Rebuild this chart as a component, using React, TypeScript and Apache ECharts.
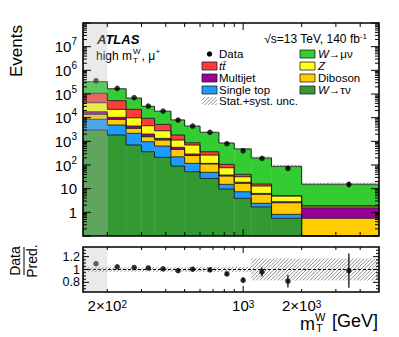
import { useEffect, useRef } from 'react';
import * as echarts from 'echarts';

// ---------------- data ----------------
const binEdges = [150, 200, 250, 300, 350, 425, 500, 600, 750, 900, 1100, 1400, 2000, 5000];
const wTauNu = [3000, 1850, 700, 363, 210, 90, 52, 27, 9.6, 3.9, 1.7, 0.56, 0.01];
const singleTop = [5500, 3030, 1470, 600, 420, 132, 65, 22, 5.6, 3.5, 0.7, 0.26, 0.01];
const diboson = [5300, 3620, 1370, 600, 500, 236, 134, 61, 18.8, 9.4, 3.35, 1.72, 0.54];
const multijet = [4000, 1800, 890, 465, 207, 99, 39, 7, 3.7, 1.8, 0.55, 0.26, 1.0];
const zBoson = [25000, 12200, 5470, 2530, 1460, 578, 407, 146, 39, 13.3, 6.6, 2.1, 0.28];
const ttbar = [64000, 29500, 12500, 4800, 2400, 710, 175, 100, 30, 8.4, 2.8, 0.1, 0.02];
const wMuNu = [226000, 114000, 45000, 20900, 13600, 6200, 3540, 2050, 743, 439, 183, 83, 13.6];
const dataCounts = [363000, 173000, 69500, 31000, 19000, 7900, 4430, 2400, 791, 400, 191, 72, 15.2];
const dataRelErr = [0.002, 0.0025, 0.004, 0.006, 0.007, 0.011, 0.015, 0.02, 0.036, 0.05, 0.072, 0.12, 0.27];
const predRelUnc = [0.04, 0.035, 0.035, 0.035, 0.035, 0.035, 0.04, 0.04, 0.04, 0.04, 0.17, 0.17, 0.17];

const mainYLabels = [
  { v: 1, t: '1' }, { v: 10, t: '10' }, { v: 1e2, t: '10{s|2}' }, { v: 1e3, t: '10{s|3}' },
  { v: 1e4, t: '10{s|4}' }, { v: 1e5, t: '10{s|5}' }, { v: 1e6, t: '10{s|6}' }, { v: 1e7, t: '10{s|7}' },
];
const ratioYLabels = [{ v: 1.2, t: '1.2' }, { v: 1.0, t: '1' }, { v: 0.8, t: '0.8' }];
const xLabels = [{ v: 200, t: '2×10{s|2}' }, { v: 1000, t: '10{s|3}' }, { v: 2000, t: '2×10{s|3}' }];
const xMinorTicks = [200, 300, 400, 500, 600, 700, 800, 900, 2000, 3000, 4000];
const xMajorTicks = [1000];
const ratioMajorTicks = [0.8, 1.0, 1.2];
const ratioMinorTicks = [0.7, 0.75, 0.85, 0.9, 0.95, 1.05, 1.1, 1.15, 1.25, 1.3];

const layers = [
  { name: 'W→τν', values: wTauNu, color: '#339933' },
  { name: 'Single top', values: singleTop, color: '#1e9bff' },
  { name: 'Diboson', values: diboson, color: '#ffcc00' },
  { name: 'Multijet', values: multijet, color: '#990099' },
  { name: 'Z', values: zBoson, color: '#ffff1a' },
  { name: 'tt', values: ttbar, color: '#ff3b3b' },
  { name: 'W→μν', values: wMuNu, color: '#33cc33' },
];

const FONT = '"Liberation Sans", Arial, Helvetica, sans-serif';

function hatch(x0: number, y0: number, x1: number, y1: number, sp: number, color = '#707070') {
  const out: any[] = [];
  const cStart = Math.ceil((x0 + y0) / sp) * sp;
  for (let c = cStart; c <= x1 + y1; c += sp) {
    const xa = Math.max(x0, c - y1);
    const xb = Math.min(x1, c - y0);
    if (xb > xa) {
      out.push({ type: 'line', shape: { x1: xa, y1: c - xa, x2: xb, y2: c - xb }, style: { stroke: color, lineWidth: 0.8 } });
    }
  }
  return out;
}

function frameSeries(gi: number, anchorY: number, cfg: any) {
  return {
    type: 'custom', xAxisIndex: gi, yAxisIndex: gi, z: 20, silent: true, clip: false,
    data: [[1000, anchorY]],
    renderItem: (params: any, api: any) => {
      const cs = params.coordSys;
      const L = cs.x, T = cs.y, R = cs.x + cs.width, B = cs.y + cs.height;
      const ch: any[] = [];
      const tk = { stroke: '#000', lineWidth: 1 };
      const yTick = (v: number, len: number) => {
        const y = api.coord([1000, v])[1];
        if (y < T - 0.5 || y > B + 0.5) return;
        ch.push({ type: 'line', shape: { x1: L, y1: y, x2: L + len, y2: y }, style: tk });
        ch.push({ type: 'line', shape: { x1: R, y1: y, x2: R - len, y2: y }, style: tk });
      };
      const xTick = (v: number, len: number) => {
        const x = api.coord([v, anchorY])[0];
        ch.push({ type: 'line', shape: { x1: x, y1: B, x2: x, y2: B - len }, style: tk });
        ch.push({ type: 'line', shape: { x1: x, y1: T, x2: x, y2: T + len }, style: tk });
      };
      cfg.yMajor.forEach((v: number) => yTick(v, cfg.yMajorLen));
      cfg.yMinor.forEach((v: number) => yTick(v, cfg.yMinorLen));
      xMajorTicks.forEach((v) => xTick(v, cfg.xMajorLen));
      xMinorTicks.forEach((v) => xTick(v, cfg.xMinorLen));
      ch.push({ type: 'rect', shape: { x: L, y: T, width: cs.width, height: cs.height }, style: { fill: 'none', stroke: '#000', lineWidth: 1.6 } });
      cfg.yLabels.forEach((lb: any) => {
        const y = api.coord([1000, lb.v])[1];
        ch.push({
          type: 'text', x: L - cfg.yLabelGap, y,
          style: {
            text: lb.t, align: 'right', verticalAlign: 'middle', fontSize: cfg.yFont, fontFamily: FONT, fill: '#000',
            lineHeight: cfg.yLineHeight,
            rich: { s: { fontSize: 10, lineHeight: 9, verticalAlign: 'top', fontFamily: FONT, fill: '#000' } },
          },
        });
      });
      if (cfg.xLabels) {
        cfg.xLabels.forEach((lb: any) => {
          const x = api.coord([lb.v, anchorY])[0];
          ch.push({
            type: 'text', x, y: B + 7,
            style: {
              text: lb.t, align: 'center', verticalAlign: 'top', fontSize: 15, fontFamily: FONT, fill: '#000', lineHeight: 13,
              rich: { s: { fontSize: 10, lineHeight: 6, verticalAlign: 'top', fontFamily: FONT, fill: '#000' } },
            },
          });
        });
      }
      return { type: 'group', children: ch };
    },
  };
}

function overlaySeries(gi: number, anchorY: number) {
  return {
    type: 'custom', xAxisIndex: gi, yAxisIndex: gi, z: 15, silent: true, clip: false,
    data: [[binEdges[0], binEdges[1], anchorY]],
    renderItem: (params: any, api: any) => {
      const cs = params.coordSys;
      const a = api.coord([api.value(0), api.value(2)]);
      const b = api.coord([api.value(1), api.value(2)]);
      return { type: 'rect', shape: { x: a[0], y: cs.y, width: b[0] - a[0], height: cs.height }, style: { fill: 'rgba(190,190,190,0.32)' } };
    },
  };
}

function bandSeries(gi: number, items: number[][]) {
  return {
    type: 'custom', xAxisIndex: gi, yAxisIndex: gi, z: 5, silent: true, clip: false,
    encode: { x: [0, 1], y: [2, 3] },
    data: items,
    renderItem: (params: any, api: any) => {
      const cs = params.coordSys;
      const a = api.coord([api.value(0), api.value(2)]);
      const b = api.coord([api.value(1), api.value(3)]);
      const yTop = Math.max(b[1], cs.y);
      const yBot = Math.min(a[1], cs.y + cs.height);
      return { type: 'group', children: hatch(a[0], yTop, b[0], yBot, 3.6) };
    },
  };
}

function errSeries(gi: number, items: number[][]) {
  return {
    type: 'custom', xAxisIndex: gi, yAxisIndex: gi, z: 7, silent: true, clip: false,
    encode: { x: 0, y: [1, 2] },
    data: items,
    renderItem: (params: any, api: any) => {
      const a = api.coord([api.value(0), api.value(1)]);
      const b = api.coord([api.value(0), api.value(2)]);
      return { type: 'line', shape: { x1: a[0], y1: a[1], x2: b[0], y2: b[1] }, style: { stroke: '#000', lineWidth: 1.2 } };
    },
  };
}

function buildOption() {
  const nb = binEdges.length - 1;
  const centers = binEdges.slice(0, -1).map((e, i) => (e + binEdges[i + 1]) / 2);
  const totals = centers.map((_, i) => layers.reduce((s, l) => s + l.values[i], 0));
  const ratios = dataCounts.map((d, i) => d / totals[i]);

  // cumulative stack boundaries per layer
  const cumTops: number[][] = layers.map(() => new Array(nb).fill(0));
  const stackItems: number[][] = [];
  for (let i = 0; i < nb; i++) {
    let cum = 1e-3;
    layers.forEach((l, li) => {
      const y0 = cum;
      cum += l.values[i];
      cumTops[li][i] = cum;
      stackItems.push([binEdges[i], binEdges[i + 1], y0, cum, li]);
    });
  }
  const mainBand = totals.map((t, i) => [binEdges[i], binEdges[i + 1], t * (1 - predRelUnc[i]), t * (1 + predRelUnc[i])]);
  const ratioBand = totals.map((_, i) => [binEdges[i], binEdges[i + 1], 1 - predRelUnc[i], 1 + predRelUnc[i]]);
  const mainErr = dataCounts.map((d, i) => [centers[i], d * (1 - dataRelErr[i]), d * (1 + dataRelErr[i])]);
  const ratioErr = ratios.map((r, i) => [centers[i], r * (1 - dataRelErr[i]), r * (1 + dataRelErr[i])]);

  const yMainMajor: number[] = [];
  const yMainMinor: number[] = [];
  for (let n = -1; n <= 8; n++) {
    yMainMajor.push(Math.pow(10, n));
    if (n < 8) for (let k = 2; k <= 9; k++) yMainMinor.push(k * Math.pow(10, n));
  }

  const legendRows = [54, 66, 78, 90, 101];
  const LF = 11.5;
  const txt = (x: number, y: number, text: string, extra: any = {}) => ({
    type: 'text', x, y, silent: true,
    style: { text, fontSize: LF, lineHeight: 11, fontFamily: FONT, fill: '#000', align: 'left', verticalAlign: 'middle', ...extra },
  });
  const box = (x: number, yc: number, color: string) => ({
    type: 'rect', silent: true, shape: { x, y: yc - 4, width: 15, height: 8 }, style: { fill: color, stroke: '#222', lineWidth: 0.8 },
  });
  const lcol = 202, rcol = 300;
  const italicRich = { i: { fontStyle: 'italic', fontSize: LF, lineHeight: 11, fontFamily: FONT, fill: '#000' } };

  const graphic: any[] = [
    // Axis titles
    { type: 'text', x: 16, y: 51, rotation: Math.PI / 2, silent: true,
      style: { text: 'Events', fontSize: 17, fontFamily: FONT, fill: '#000', align: 'center', verticalAlign: 'middle' } },
    { type: 'text', x: 15, y: 261, rotation: Math.PI / 2, silent: true,
      style: { text: 'Data', fontSize: 14, fontFamily: FONT, fill: '#000', align: 'center', verticalAlign: 'middle' } },
    { type: 'line', silent: true, shape: { x1: 24, y1: 247, x2: 24, y2: 275 }, style: { stroke: '#000', lineWidth: 1 } },
    { type: 'text', x: 32, y: 261, rotation: Math.PI / 2, silent: true,
      style: { text: 'Pred.', fontSize: 14, fontFamily: FONT, fill: '#000', align: 'center', verticalAlign: 'middle' } },
    txt(300, 324, 'm', { fontSize: 18, lineHeight: 14 }),
    txt(315, 316.5, 'W', { fontSize: 11, lineHeight: 8 }),
    txt(316, 327.5, 'T', { fontSize: 11, lineHeight: 8 }),
    txt(378, 321, '[GeV]', { fontSize: 18, lineHeight: 18, align: 'right' }),
    // ATLAS label
    txt(97, 39, 'ATLAS', { fontSize: 13, fontWeight: 'bold', fontStyle: 'italic', lineHeight: 13 }),
    txt(96, 56, 'high m', { fontSize: 12, lineHeight: 11 }),
    txt(133, 51, 'W', { fontSize: 8, lineHeight: 7 }),
    txt(133, 60, 'T', { fontSize: 8, lineHeight: 7 }),
    txt(141.5, 56, ', μ', { fontSize: 12, lineHeight: 11 }),
    txt(155.5, 51.5, '+', { fontSize: 8, lineHeight: 7 }),
    txt(367, 39, '√s=13 TeV, 140 fb{s|-1}', { fontSize: 12, align: 'right', rich: { s: { fontSize: 8, lineHeight: 8, verticalAlign: 'top', fontFamily: FONT, fill: '#000' } }, lineHeight: 14 }),
    // legend
    { type: 'circle', silent: true, shape: { cx: 209.5, cy: legendRows[0], r: 2.7 }, style: { fill: '#000' } },
    txt(219, legendRows[0], 'Data'),
    box(lcol, legendRows[1], '#ff3b3b'),
    txt(219, legendRows[1], 'tt\u0304', { fontStyle: 'italic' }),
    box(lcol, legendRows[2], '#990099'),
    txt(219, legendRows[2], 'Multijet'),
    box(lcol, legendRows[3], '#1e9bff'),
    txt(219, legendRows[3], 'Single top'),
    { type: 'group', silent: true, children: hatch(lcol, legendRows[4] - 4, lcol + 15, legendRows[4] + 4, 3.6) },
    txt(219, legendRows[4], 'Stat.+syst. unc.'),
    box(rcol, legendRows[0], '#33cc33'),
    txt(318, legendRows[0], '{i|W}→μν', { rich: italicRich }),
    box(rcol, legendRows[1], '#ffff1a'),
    txt(318, legendRows[1], 'Z', { fontStyle: 'italic' }),
    box(rcol, legendRows[2], '#ffcc00'),
    txt(318, legendRows[2], 'Diboson'),
    box(rcol, legendRows[3], '#339933'),
    txt(318, legendRows[3], '{i|W}→τν', { rich: italicRich }),
  ];

  return {
    animation: false,
    backgroundColor: '#fff',
    grid: [
      { left: 83, top: 23, width: 296, height: 213 },
      { left: 83, top: 247, width: 296, height: 45 },
    ],
    xAxis: [
      { type: 'log', gridIndex: 0, min: 150, max: 5000, show: false },
      { type: 'log', gridIndex: 1, min: 150, max: 5000, show: false },
    ],
    yAxis: [
      { type: 'log', gridIndex: 0, min: 0.1, max: 1e8, show: false },
      { type: 'value', gridIndex: 1, min: 0.65, max: 1.35, show: false },
    ],
    graphic,
    series: [
      // stacked fills
      {
        type: 'custom', xAxisIndex: 0, yAxisIndex: 0, z: 2, silent: true, clip: false,
        encode: { x: [0, 1], y: [2, 3] },
        data: stackItems,
        renderItem: (params: any, api: any) => {
          const cs = params.coordSys;
          const li = api.value(4);
          const a = api.coord([api.value(0), api.value(2)]);
          const b = api.coord([api.value(1), api.value(3)]);
          const bottom = cs.y + cs.height;
          const yb = Math.min(a[1], bottom);
          const yt = Math.max(Math.min(b[1], bottom), cs.y);
          if (yb - yt < 0.05) return { type: 'group', children: [] };
          return {
            type: 'rect', shape: { x: a[0], y: yt, width: b[0] - a[0] + 0.3, height: yb - yt },
            style: { fill: layers[li].color },
          };
        },
      },
      // step outlines of each cumulative layer
      {
        type: 'custom', xAxisIndex: 0, yAxisIndex: 0, z: 3, silent: true, clip: false,
        data: layers.map((_, li) => [1000, 1, li]),
        renderItem: (params: any, api: any) => {
          const cs = params.coordSys;
          const li = api.value(2);
          const bottom = cs.y + cs.height;
          const pts: number[][] = [];
          for (let i = 0; i < nb; i++) {
            const a = api.coord([binEdges[i], cumTops[li][i]]);
            const b = api.coord([binEdges[i + 1], cumTops[li][i]]);
            const y = Math.min(a[1], bottom);
            pts.push([a[0], y], [b[0], y]);
          }
          return { type: 'polyline', shape: { points: pts }, style: { stroke: '#1a1a1a', lineWidth: 0.9, fill: 'none' } };
        },
      },
      bandSeries(0, mainBand),
      errSeries(0, mainErr),
      {
        type: 'scatter', xAxisIndex: 0, yAxisIndex: 0, z: 8, silent: true,
        symbol: 'circle', symbolSize: 5.5, itemStyle: { color: '#000' },
        data: centers.map((c, i) => [c, dataCounts[i]]),
      },
      overlaySeries(0, 1),
      frameSeries(0, 1, {
        yMajor: yMainMajor, yMinor: yMainMinor, yMajorLen: 8, yMinorLen: 4,
        xMajorLen: 7, xMinorLen: 4, yLabels: mainYLabels, yLabelGap: 6, yFont: 15, yLineHeight: 20,
      }),
      // ratio panel
      bandSeries(1, ratioBand),
      {
        type: 'line', xAxisIndex: 1, yAxisIndex: 1, z: 6, silent: true, showSymbol: false,
        data: [[binEdges[0], 1], [binEdges[nb], 1]],
        lineStyle: { color: '#000', width: 1, type: [3, 2] },
      },
      errSeries(1, ratioErr),
      {
        type: 'scatter', xAxisIndex: 1, yAxisIndex: 1, z: 8, silent: true,
        symbol: 'circle', symbolSize: 5.5, itemStyle: { color: '#000' },
        data: centers.map((c, i) => [c, ratios[i]]),
      },
      overlaySeries(1, 1),
      frameSeries(1, 1, {
        yMajor: ratioMajorTicks, yMinor: ratioMinorTicks, yMajorLen: 6, yMinorLen: 3,
        xMajorLen: 6, xMinorLen: 3, yLabels: ratioYLabels, yLabelGap: 3, yFont: 12.5, yLineHeight: 12, xLabels,
      }),
    ],
  };
}

export default function App() {
  const ref = useRef<HTMLDivElement>(null);
  useEffect(() => {
    const chart = echarts.init(ref.current as HTMLDivElement, null, { renderer: 'svg', width: 399, height: 337 });
    chart.setOption(buildOption() as any);
    return () => chart.dispose();
  }, []);
  return <div ref={ref} style={{ position: 'fixed', left: 0, top: 0, width: 399, height: 337, background: '#fff' }} />;
}
